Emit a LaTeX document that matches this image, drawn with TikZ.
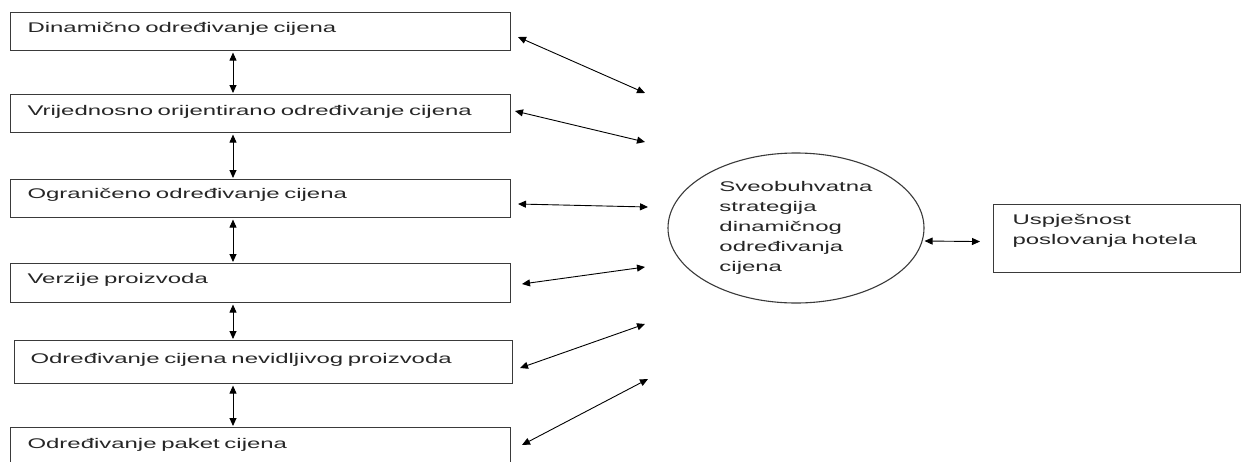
\documentclass[tikz,border=0pt]{standalone}
\usepackage{fontspec}
\setmainfont[FakeStretch=1.71]{Liberation Sans}
\usetikzlibrary{arrows.meta,shapes.geometric,calc}
\definecolor{linecol}{HTML}{3A3A3A}
\definecolor{txtcol}{HTML}{262626}
\tikzset{
  x=1pt, y=-1pt,
  every node/.style={font=\fontsize{14}{20}\selectfont, text=txtcol},
  leftbox/.style={draw=linecol, line width=1.1pt, anchor=north west, align=left, inner ysep=0pt, inner xsep=17pt, text width=466pt},
  link/.style={draw=black, line width=0.9pt, {Triangle[length=8pt,width=7pt]}-{Triangle[length=8pt,width=7pt]}},
}
\begin{document}
\begin{tikzpicture}
\useasboundingbox (0,0) rectangle (1244,461);
\clip (0,0) rectangle (1244,461);
\fill[white] (0,0) rectangle (1244,461);

% left boxes
\node[leftbox, text height=20pt, text depth=18pt] (b1) at (10,12) {Dinamično određivanje cijena};
\node[leftbox, text height=21pt, text depth=17pt] (b2) at (10,94) {Vrijednosno orijentirano određivanje cijena};
\node[leftbox, text height=19pt, text depth=19pt] (b3) at (10,179) {Ograničeno određivanje cijena};
\node[leftbox, text height=20pt, text depth=19pt] (b4) at (10,263) {Verzije proizvoda};
\node[leftbox, inner xsep=16pt, text width=466pt, text height=23pt, text depth=20pt] (b5) at (14,340) {Određivanje cijena nevidljivog proizvoda};
\node[leftbox, text height=21pt, text depth=19pt] (b6) at (10,427) {Određivanje paket cijena};

% vertical links
\coordinate (vx) at (233,0);
\foreach \a/\b in {b1/b2,b2/b3,b3/b4,b4/b5,b5/b6}{
  \draw[link] ([yshift=-1.5pt]\a.south -| vx) -- ([yshift=1pt]\b.north -| vx);
}

% centre ellipse
\node[draw=linecol, line width=1.1pt, ellipse, minimum width=256pt, minimum height=150pt, align=left, inner sep=0pt] (c) at (796,228)
  {Sveobuhvatna\\strategija\\dinamičnog\\određivanja\\cijena};

% right box
\node[draw=linecol, line width=1.1pt, anchor=north west, align=left, inner ysep=0pt, inner xsep=19pt, text width=209pt, text height=20pt, text depth=48pt] (r) at (993,204)
  {Uspješnost\\poslovanja hotela};

% diagonal links
\coordinate (s1) at (518,37);  \coordinate (e1) at (645,93);
\coordinate (s2) at (515,111); \coordinate (e2) at (645,142);
\coordinate (s3) at (518,204); \coordinate (e3) at (648,207);
\coordinate (s4) at (522,284); \coordinate (e4) at (645,267);
\coordinate (s5) at (520,368); \coordinate (e5) at (645,324);
\coordinate (s6) at (522,445); \coordinate (e6) at (648,379);
\foreach \i in {1,...,6}{
  \draw[link] (s\i) -- (e\i);
}

% ellipse to right box
\draw[link] ([yshift=-13pt]c.east) -- ([xshift=-13pt,yshift=-3pt]r.west);
\end{tikzpicture}
\end{document}
